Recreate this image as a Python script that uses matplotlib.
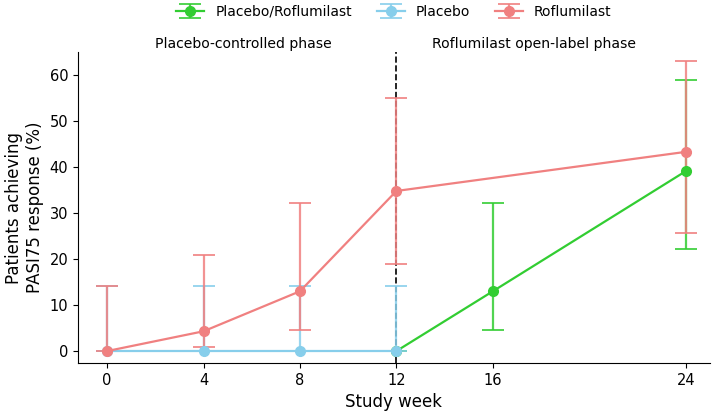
import matplotlib
matplotlib.use('Agg')
import matplotlib.pyplot as plt

# study weeks for each arm
weeks_plac_rof = [12, 16, 24]
weeks_placebo = [0, 4, 8, 12]
weeks_rof = [0, 4, 8, 12, 24]

# PASI75 response (%) with 95% CI bounds
plac_rof = [0, 13.0, 39.1]
plac_rof_lo = [0, 4.6, 22.2]
plac_rof_hi = [0, 32.2, 58.9]

placebo = [0, 0, 0, 0]
placebo_lo = [0, 0, 0, 0]
placebo_hi = [14.1, 14.1, 14.1, 14.1]

rof = [0, 4.3, 13.0, 34.8, 43.3]
rof_lo = [0, 0.9, 4.6, 18.9, 25.7]
rof_hi = [14.1, 20.9, 32.2, 55.0, 63.0]

xticks = [0, 4, 8, 12, 16, 24]


def err(vals, lo, hi):
    return [[v - l for v, l in zip(vals, lo)], [h - v for v, h in zip(vals, hi)]]


fig = plt.figure(figsize=(7.17, 4.13), dpi=100)
ax = fig.add_axes([0.109, 0.121, 0.881, 0.753])

ax.axvline(12, color='black', linestyle='--', linewidth=1.2, zorder=0)

series = [
    (weeks_plac_rof, plac_rof, plac_rof_lo, plac_rof_hi, '#32CD32', 'Placebo/Roflumilast'),
    (weeks_placebo, placebo, placebo_lo, placebo_hi, '#87CEEB', 'Placebo'),
    (weeks_rof, rof, rof_lo, rof_hi, '#F08080', 'Roflumilast'),
]
for x, y, lo, hi, c, name in series:
    eb = ax.errorbar(x, y, yerr=err(y, lo, hi), color=c, marker='o', markersize=7,
                     linewidth=1.6, capsize=8, elinewidth=1.6, capthick=1.4, label=name)
    for ln in eb[2]:
        ln.set_alpha(0.85)
    for cp in eb[1]:
        cp.set_alpha(0.85)

ax.set_xlim(-1.2, 25)
ax.set_ylim(-2.6, 65)
ax.set_xticks(xticks)
ax.set_yticks([0, 10, 20, 30, 40, 50, 60])
ax.tick_params(labelsize=10.5)
ax.spines['top'].set_visible(False)
ax.spines['right'].set_visible(False)

ax.set_xlabel('Study week', fontsize=12)
ax.set_ylabel('Patients achieving\nPASI75 response (%)', fontsize=12)

ax.text(5.65, 65.3, 'Placebo-controlled phase', ha='center', va='bottom', fontsize=10.1)
ax.text(17.7, 65.3, 'Roflumilast open-label phase', ha='center', va='bottom', fontsize=10.1)

ax.legend(loc='center', bbox_to_anchor=(0.5, 1.13), ncol=3, frameon=False,
          fontsize=10, columnspacing=1.8)

fig.savefig('out.png', dpi=100)
